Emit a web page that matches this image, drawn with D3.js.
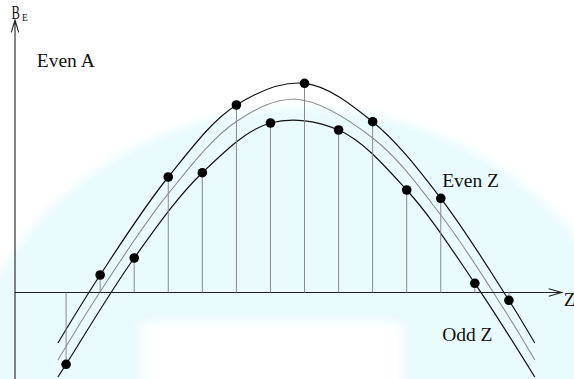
<html>
<head>
<meta charset="utf-8">
<script src="https://cdn.jsdelivr.net/npm/d3@7/dist/d3.min.js"></script>
<style>
body{margin:0;background:#fff;overflow:hidden}
svg{display:block}
text{font-family:"Liberation Serif","Times New Roman",serif;fill:#111}
</style>
</head>
<body>
<svg id="plot"></svg>
<script>

// nuclei along one isobar, binding energy (arbitrary units)
var zValues = [0,1,2,3,4,5,6,7,8,9,10,11,12,13];
var nucleusB = [-3.59,0.875,1.725,5.775,5.99,9.375,8.475,10.46,8.125,8.54,5.125,4.71,0.46,-0.39];

// upper parabola (even Z)
var evenCurveZ = [-0.24,1,3,5,7,9,11,13,13.76];
var evenCurveB = [-2.525,0.875,5.775,9.375,10.46,8.54,4.71,-0.39,-2.525];

// middle grey parabola
var midCurveZ = [-0.24,1,3,5,6.75,9,11,13,13.76];
var midCurveB = [-3.375,0.04,4.94,8.55,9.66,7.725,3.875,-1.225,-3.375];

// lower parabola (odd Z)
var oddCurveZ = [-0.24,0,2,4,6,8,10,12,13.76];
var oddCurveB = [-4.225,-3.59,1.725,5.99,8.475,8.125,5.125,0.46,-4.225];

var labels = [
    {text:"Even A", z:-0.86, b:11.275},
    {text:"Even Z", z:11.04, b:5.29},
    {text:"Odd Z", z:11.04, b:-2.425}
];

var screen = {width:574, height:379};

var initGraph = function(target)
{
    var svg = d3.select(target)
        .attr("width",screen.width)
        .attr("height",screen.height);

    var xScale = d3.scaleLinear()
        .domain([-1.5,14.55])
        .range([15,561.7]);

    var yScale = d3.scaleLinear()
        .domain([-4.325,13.625])
        .range([379,20]);

    drawBackdrop(svg);
    drawCurves(svg,xScale,yScale);
    drawAxes(svg,xScale,yScale);
    drawPoints(svg,xScale,yScale);
    drawLabels(svg,xScale,yScale);
}

// faint cyan arch behind everything
var drawBackdrop = function(svg)
{
    svg.append("defs")
        .append("filter")
        .attr("id","soft")
        .attr("x","-20%").attr("y","-20%")
        .attr("width","140%").attr("height","140%")
        .append("feGaussianBlur")
        .attr("stdDeviation",4);

    var bg = svg.append("g").attr("filter","url(#soft)");

    bg.append("ellipse")
        .attr("cx",300).attr("cy",420)
        .attr("rx",340).attr("ry",312)
        .attr("fill","#e9fbfd");

    bg.append("rect")
        .attr("x",141).attr("y",322)
        .attr("width",262).attr("height",90)
        .attr("rx",6)
        .attr("fill","#ffffff");
}

var drawCurves = function(svg,xScale,yScale)
{
    var line = d3.line()
        .x(function(d){return xScale(d[0]);})
        .y(function(d){return yScale(d[1]);})
        .curve(d3.curveCatmullRom.alpha(0.5));

    var curves = [
        {z:evenCurveZ, b:evenCurveB, color:"#111", w:1.2},
        {z:midCurveZ, b:midCurveB, color:"#8c8c8c", w:1.1},
        {z:oddCurveZ, b:oddCurveB, color:"#111", w:1.2}
    ];

    svg.append("g")
        .selectAll("path")
        .data(curves)
        .enter()
        .append("path")
        .attr("d",function(c){return line(d3.zip(c.z,c.b));})
        .attr("fill","none")
        .attr("stroke",function(c){return c.color;})
        .attr("stroke-width",function(c){return c.w;});
}

var drawAxes = function(svg,xScale,yScale)
{
    var x0 = xScale.range()[0];
    var x1 = xScale.range()[1];
    var y0 = yScale(0);
    var yBottom = yScale.range()[0];
    var yTop = yScale.range()[1];

    var axes = svg.append("g")
        .attr("fill","none")
        .attr("stroke","#222")
        .attr("stroke-width",1.1);

    axes.append("path")
        .attr("d","M"+x0+","+yBottom+"V"+yTop
             +"M"+(x0-3.7)+","+(yTop+12.3)+"L"+x0+","+yTop+"L"+(x0+3.7)+","+(yTop+12.3));

    axes.append("path")
        .attr("d","M"+x0+","+y0+"H"+x1
             +"M"+(x1-13)+","+(y0-3.7)+"L"+x1+","+y0+"L"+(x1-13)+","+(y0+3.7));

    svg.append("text")
        .attr("x",x1+2)
        .attr("y",y0+13.5)
        .attr("font-size",19)
        .text("Z");

    var be = svg.append("g")
        .attr("transform","translate("+(x0-3.5)+","+(yTop-0.6)+")");
    be.append("text")
        .attr("transform","scale(0.66,1)")
        .attr("font-size",19)
        .text("B");
    be.append("text")
        .attr("x",10.5)
        .attr("y",1.2)
        .attr("font-size",9.5)
        .text("E");
}

var drawPoints = function(svg,xScale,yScale)
{
    svg.append("g")
        .selectAll("line")
        .data(zValues)
        .enter()
        .append("line")
        .attr("x1",function(z){return xScale(z);})
        .attr("x2",function(z){return xScale(z);})
        .attr("y1",yScale(0))
        .attr("y2",function(z,i){return yScale(nucleusB[i]);})
        .attr("stroke","#8a8a8a")
        .attr("stroke-width",1);

    svg.append("g")
        .selectAll("circle")
        .data(zValues)
        .enter()
        .append("circle")
        .attr("cx",function(z){return xScale(z);})
        .attr("cy",function(z,i){return yScale(nucleusB[i]);})
        .attr("r",4.8)
        .attr("fill","#000");
}

var drawLabels = function(svg,xScale,yScale)
{
    svg.append("g")
        .selectAll("text")
        .data(labels)
        .enter()
        .append("text")
        .attr("x",function(d){return xScale(d.z);})
        .attr("y",function(d){return yScale(d.b);})
        .attr("font-size",19.5)
        .text(function(d){return d.text;});
}

initGraph("#plot");

</script>
</body>
</html>
